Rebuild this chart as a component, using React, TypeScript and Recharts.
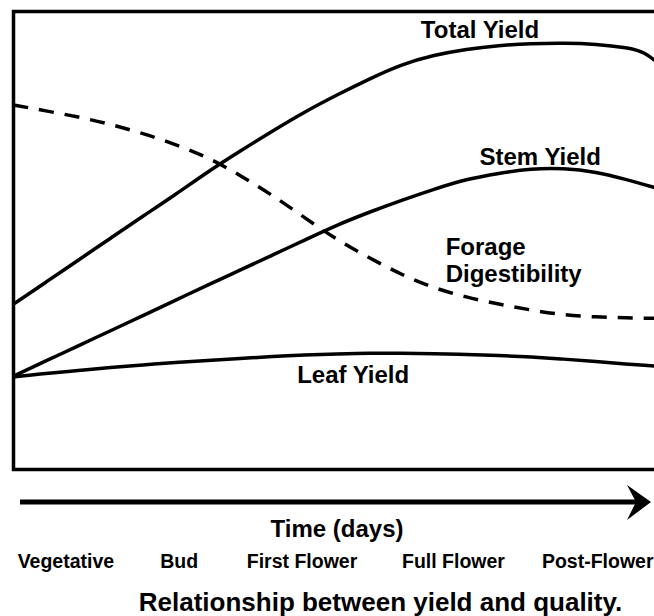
import React from 'react';
import { LineChart, Line, XAxis, YAxis, ReferenceArea, ReferenceDot } from 'recharts';

// Time axis (relative days, 0-100) and relative levels (0-100)
const days = [0, 5, 10, 15, 20, 25, 30, 35, 40, 45, 50, 55, 60, 65, 70, 75, 80, 85, 90, 95, 97.5, 100];
const totalYield = [36.1, 40.9, 45.7, 50.5, 55.3, 60.0, 65.0, 69.5, 73.9, 78.1, 81.8, 85.3, 88.5, 90.5, 91.8, 92.6, 93.0, 93.1, 92.9, 92.1, 91.2, 88.3];
const stemYield = [20.4, 23.7, 27.0, 30.3, 33.6, 36.9, 40.3, 43.5, 46.8, 50.1, 53.4, 56.2, 58.8, 61.2, 63.4, 64.7, 65.7, 65.8, 65.0, 63.2, 62.2, 61.2];
const forageDigestibility = [79.6, 78.3, 77.0, 75.4, 73.4, 71.0, 68.2, 64.3, 59.9, 55.0, 50.1, 46.2, 42.5, 39.6, 37.6, 36.1, 34.8, 33.7, 33.3, 33.1, 33.0, 33.0];
const leafYield = [20.2, 21.0, 21.6, 22.3, 22.8, 23.4, 23.8, 24.2, 24.7, 25.0, 25.2, 25.4, 25.4, 25.3, 25.1, 24.9, 24.6, 24.1, 23.6, 23.0, 22.75, 22.5];

const stageTicks = [8.1, 25.6, 44.6, 68.0, 90.3];
const stageLabels = ['Vegetative', 'Bud', 'First Flower', 'Full Flower', 'Post-Flower'];

const labelTexts = ['Total Yield', 'Stem Yield', 'Forage', 'Digestibility', 'Leaf Yield'];
const labelX = [72.1, 81.4, 66.8, 66.8, 52.5];
const labelY = [94.2, 66.5, 46.8, 40.9, 18.9];
const labelAnchor = ['middle', 'middle', 'start', 'start', 'middle'];

const axisTitle = 'Time (days)';
const chartTitle = 'Relationship between yield and quality.';

const data = days.map((d, i) => ({
  day: d,
  total: totalYield[i],
  stem: stemYield[i],
  digest: forageDigestibility[i],
  leaf: leafYield[i],
}));

const FONT = '"Liberation Sans", Arial, Helvetica, sans-serif';

const CurveLabel = (props: any) => {
  const { viewBox, text, anchor } = props;
  if (!viewBox) return null;
  const x = viewBox.x + (viewBox.width || 0) / 2;
  const y = viewBox.y + (viewBox.height || 0) / 2;
  return (
    <text x={x} y={y} textAnchor={anchor} fontFamily={FONT} fontWeight="bold" fontSize={24} fill="#000">
      {text}
    </text>
  );
};

const StageTick = (props: any) => {
  const { x, y, payload } = props;
  const i = stageTicks.indexOf(payload.value);
  return (
    <text x={x} y={y + 98.5} textAnchor="middle" fontFamily={FONT} fontWeight="bold" fontSize={19.5} fill="#000">
      {stageLabels[i]}
    </text>
  );
};

const AxisDecor = (props: any) => {
  const vb = props.viewBox;
  if (!vb) return null;
  const ay = vb.y + 32.5;
  const x0 = vb.x + 6.5;
  const tip = vb.x + vb.width - 9.5;
  return (
    <g>
      <line x1={x0} y1={ay} x2={tip - 14} y2={ay} stroke="#000" strokeWidth={5} />
      <path
        d={`M ${tip} ${ay} L ${tip - 24} ${ay - 17} L ${tip - 15} ${ay} L ${tip - 24} ${ay + 18} Z`}
        fill="#000"
      />
      <text x={vb.x + vb.width / 2} y={vb.y + 67.5} textAnchor="middle" fontFamily={FONT} fontWeight="bold" fontSize={24} fill="#000">
        {axisTitle}
      </text>
      <text x={vb.x + 367} y={vb.y + 141.5} textAnchor="middle" fontFamily={FONT} fontWeight="bold" fontSize={26} fill="#000">
        {chartTitle}
      </text>
    </g>
  );
};

export default function App() {
  return (
    <div style={{ position: 'absolute', left: 0, top: 0, width: 654, height: 616, overflow: 'hidden', background: '#fff' }}>
      <LineChart width={700} height={616} data={data} margin={{ top: 11.5, left: 13.5, right: 39.5, bottom: 0 }}>
        <XAxis
          dataKey="day"
          type="number"
          domain={[0, 100]}
          ticks={stageTicks}
          axisLine={false}
          tickLine={false}
          tickSize={0}
          tickMargin={0}
          height={146.5}
          tick={<StageTick />}
          interval={0}
          label={<AxisDecor />}
        />
        <YAxis type="number" domain={[0, 100]} hide />
        <ReferenceArea x1={0} x2={100} y1={0} y2={100} fill="none" stroke="#000" strokeWidth={3.5} fillOpacity={0} />
        <Line type="basis" dataKey="total" stroke="#000" strokeWidth={3.5} dot={false} isAnimationActive={false} />
        <Line type="basis" dataKey="stem" stroke="#000" strokeWidth={3.5} dot={false} isAnimationActive={false} />
        <Line type="basis" dataKey="digest" stroke="#000" strokeWidth={3.5} strokeDasharray="15 11" dot={false} isAnimationActive={false} />
        <Line type="basis" dataKey="leaf" stroke="#000" strokeWidth={3.5} dot={false} isAnimationActive={false} />
        {labelTexts.map((t, i) => (
          <ReferenceDot
            key={t}
            x={labelX[i]}
            y={labelY[i]}
            r={0}
            fill="none"
            stroke="none"
            label={<CurveLabel text={t} anchor={labelAnchor[i]} />}
          />
        ))}
      </LineChart>
    </div>
  );
}
